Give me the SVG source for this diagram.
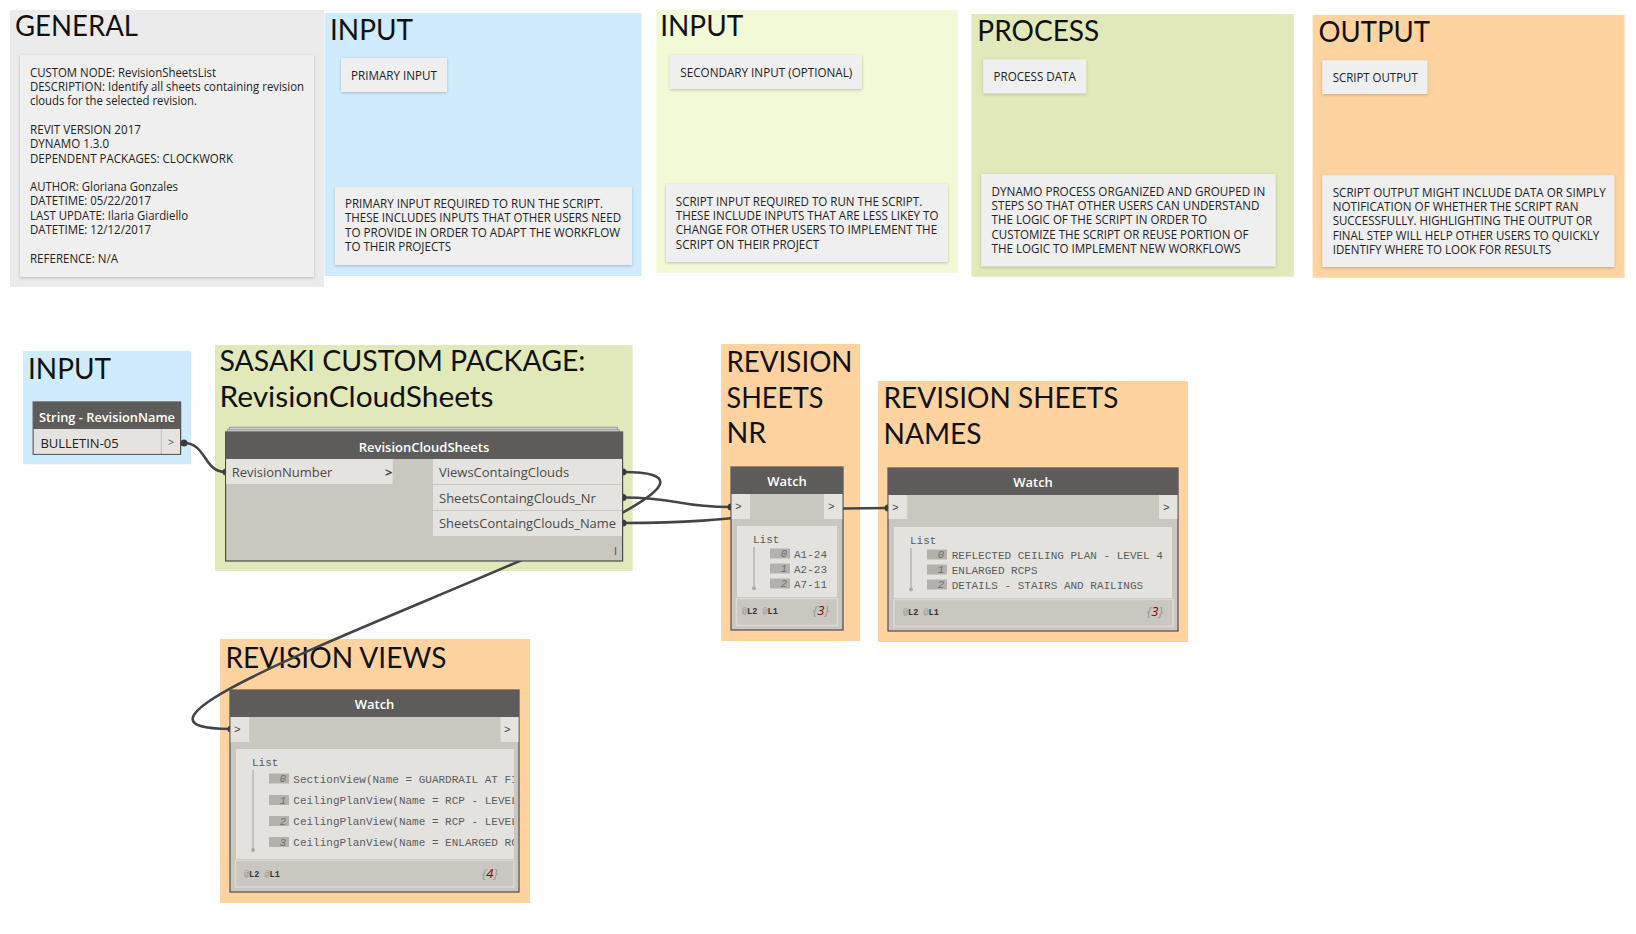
<svg xmlns="http://www.w3.org/2000/svg" width="1636" height="934" viewBox="0 0 1636 934">
<style>
.gt{font-family:Lato,"Open Sans","Liberation Sans",sans-serif;font-size:29px;fill:#111}
.nt{font-family:"Open Sans","Liberation Sans",sans-serif;font-size:12px;fill:#222}
.note{fill:#efefef}
.hd{font-family:"Open Sans","Liberation Sans",sans-serif;font-size:13px;font-weight:600;fill:#fff;text-anchor:middle}
.pt{font-family:"Open Sans","Liberation Sans",sans-serif;font-size:13px;fill:#4a4a4a}
.mono{font-family:"Liberation Mono","DejaVu Sans Mono",monospace;font-size:11px;fill:#5c5c5c}
.idx{font-family:"Liberation Mono","DejaVu Sans Mono",monospace;font-size:10.5px;fill:#6e6e6e;text-anchor:end;font-style:italic}
.ib{fill:#b4b1ac}
.body{fill:#cac6c0;stroke:#4e4e4e;stroke-width:1.2}
.head{fill:#5e5c5a}
.row{fill:#e5e3df}
.list{fill:#e4e2de}
.foot{fill:none;stroke:#dcd9d4;stroke-width:1.5}
.lv{font-family:"Liberation Mono","DejaVu Sans Mono",monospace;font-size:8.5px;font-weight:bold;fill:#333}
.at{fill:#999;font-weight:normal}
.cnt{font-family:"Open Sans","Liberation Sans",sans-serif;font-size:13px;font-style:italic;fill:#999;text-anchor:end}
.wire{fill:none;stroke:#444;stroke-width:2.6}
.dot{fill:#3a3a3a}
.tl{stroke:#aaa;stroke-width:1.2}
</style>
<defs>
<filter id="sh" x="-5%" y="-5%" width="110%" height="115%">
<feDropShadow dx="0" dy="1" stdDeviation="1.5" flood-color="#000" flood-opacity="0.22"/>
</filter>
<clipPath id="clipV"><rect x="236" y="749" width="278" height="110"/></clipPath>
</defs>

<!-- top groups -->
<g id="grp-general">
<rect x="10" y="10" width="314" height="277" fill="#ebebeb"/>
<text class="gt" x="15" y="36" textLength="123" lengthAdjust="spacingAndGlyphs">GENERAL</text>
<rect class="note" x="20" y="55" width="294" height="222" filter="url(#sh)"/>
<text class="nt" x="30" y="76.7" textLength="186" lengthAdjust="spacingAndGlyphs">CUSTOM NODE: RevisionSheetsList</text>
<text class="nt" x="30" y="91" textLength="274" lengthAdjust="spacingAndGlyphs">DESCRIPTION: Identify all sheets containing revision</text>
<text class="nt" x="30" y="105.3" textLength="167" lengthAdjust="spacingAndGlyphs">clouds for the selected revision.</text>
<text class="nt" x="30" y="133.9" textLength="111" lengthAdjust="spacingAndGlyphs">REVIT VERSION 2017</text>
<text class="nt" x="30" y="148.2" textLength="79" lengthAdjust="spacingAndGlyphs">DYNAMO 1.3.0</text>
<text class="nt" x="30" y="162.5" textLength="203" lengthAdjust="spacingAndGlyphs">DEPENDENT PACKAGES: CLOCKWORK</text>
<text class="nt" x="30" y="191.1" textLength="148" lengthAdjust="spacingAndGlyphs">AUTHOR: Gloriana Gonzales</text>
<text class="nt" x="30" y="205.4" textLength="121" lengthAdjust="spacingAndGlyphs">DATETIME: 05/22/2017</text>
<text class="nt" x="30" y="219.7" textLength="158" lengthAdjust="spacingAndGlyphs">LAST UPDATE: Ilaria Giardiello</text>
<text class="nt" x="30" y="234" textLength="121" lengthAdjust="spacingAndGlyphs">DATETIME: 12/12/2017</text>
<text class="nt" x="30" y="262.6" textLength="88" lengthAdjust="spacingAndGlyphs">REFERENCE: N/A</text>
</g>

<g id="grp-input-primary">
<rect x="324.5" y="13" width="317" height="263" fill="#d0ecfc"/>
<text class="gt" x="330" y="40" textLength="83" lengthAdjust="spacingAndGlyphs">INPUT</text>
<rect class="note" x="341" y="58" width="106" height="34" filter="url(#sh)"/>
<text class="nt" x="351" y="80" textLength="86" lengthAdjust="spacingAndGlyphs">PRIMARY INPUT</text>
<rect class="note" x="335" y="187" width="297" height="78" filter="url(#sh)"/>
<text class="nt" x="345" y="208" textLength="258" lengthAdjust="spacingAndGlyphs">PRIMARY INPUT REQUIRED TO RUN THE SCRIPT.</text>
<text class="nt" x="345" y="222.3" textLength="276" lengthAdjust="spacingAndGlyphs">THESE INCLUDES INPUTS THAT OTHER USERS NEED</text>
<text class="nt" x="345" y="236.6" textLength="275" lengthAdjust="spacingAndGlyphs">TO PROVIDE IN ORDER TO ADAPT THE WORKFLOW</text>
<text class="nt" x="345" y="251" textLength="106" lengthAdjust="spacingAndGlyphs">TO THEIR PROJECTS</text>
</g>

<g id="grp-input-secondary">
<rect x="656.3" y="10" width="301.6" height="262.7" fill="#f2f9d6"/>
<text class="gt" x="660.2" y="36" textLength="83" lengthAdjust="spacingAndGlyphs">INPUT</text>
<rect class="note" x="669.9" y="55" width="192" height="34" filter="url(#sh)"/>
<text class="nt" x="680.3" y="77" textLength="172" lengthAdjust="spacingAndGlyphs">SECONDARY INPUT (OPTIONAL)</text>
<rect class="note" x="666" y="184" width="282" height="78" filter="url(#sh)"/>
<text class="nt" x="675.8" y="205.7" textLength="246.4" lengthAdjust="spacingAndGlyphs">SCRIPT INPUT REQUIRED TO RUN THE SCRIPT.</text>
<text class="nt" x="675.8" y="219.9" textLength="262.6" lengthAdjust="spacingAndGlyphs">THESE INCLUDE INPUTS THAT ARE LESS LIKEY TO</text>
<text class="nt" x="675.8" y="234.1" textLength="261.3" lengthAdjust="spacingAndGlyphs">CHANGE FOR OTHER USERS TO IMPLEMENT THE</text>
<text class="nt" x="675.8" y="248.5" textLength="143.3" lengthAdjust="spacingAndGlyphs">SCRIPT ON THEIR PROJECT</text>
</g>

<g id="grp-process">
<rect x="971.5" y="14" width="322.3" height="262.7" fill="#e1e9ba"/>
<text class="gt" x="977.3" y="40.7" textLength="122" lengthAdjust="spacingAndGlyphs">PROCESS</text>
<rect class="note" x="983.2" y="59.3" width="103" height="34" filter="url(#sh)"/>
<text class="nt" x="993.5" y="81" textLength="82.4" lengthAdjust="spacingAndGlyphs">PROCESS DATA</text>
<rect class="note" x="981.2" y="174" width="294.4" height="92.3" filter="url(#sh)"/>
<text class="nt" x="991.6" y="195.7" textLength="273.7" lengthAdjust="spacingAndGlyphs">DYNAMO PROCESS ORGANIZED AND GROUPED IN</text>
<text class="nt" x="991.6" y="209.9" textLength="267.8" lengthAdjust="spacingAndGlyphs">STEPS SO THAT OTHER USERS CAN UNDERSTAND</text>
<text class="nt" x="991.6" y="224.1" textLength="215.3" lengthAdjust="spacingAndGlyphs">THE LOGIC OF THE SCRIPT IN ORDER TO</text>
<text class="nt" x="991.6" y="238.5" textLength="256.8" lengthAdjust="spacingAndGlyphs">CUSTOMIZE THE SCRIPT OR REUSE PORTION OF</text>
<text class="nt" x="991.6" y="252.7" textLength="249" lengthAdjust="spacingAndGlyphs">THE LOGIC TO IMPLEMENT NEW WORKFLOWS</text>
</g>

<g id="grp-output">
<rect x="1312.6" y="15" width="311.9" height="262.7" fill="#ffd3a0"/>
<text class="gt" x="1318.4" y="41.7" textLength="111.5" lengthAdjust="spacingAndGlyphs">OUTPUT</text>
<rect class="note" x="1322.3" y="60.3" width="105" height="33.7" filter="url(#sh)"/>
<text class="nt" x="1332.7" y="81.7" textLength="85" lengthAdjust="spacingAndGlyphs">SCRIPT OUTPUT</text>
<rect class="note" x="1322.3" y="175.3" width="292" height="91.7" filter="url(#sh)"/>
<text class="nt" x="1332.7" y="196.7" textLength="273" lengthAdjust="spacingAndGlyphs">SCRIPT OUTPUT MIGHT INCLUDE DATA OR SIMPLY</text>
<text class="nt" x="1332.7" y="210.9" textLength="245.8" lengthAdjust="spacingAndGlyphs">NOTIFICATION OF WHETHER THE SCRIPT RAN</text>
<text class="nt" x="1332.7" y="225.1" textLength="259.4" lengthAdjust="spacingAndGlyphs">SUCCESSFULLY. HIGHLIGHTING THE OUTPUT OR</text>
<text class="nt" x="1332.7" y="239.5" textLength="266.5" lengthAdjust="spacingAndGlyphs">FINAL STEP WILL HELP OTHER USERS TO QUICKLY</text>
<text class="nt" x="1332.7" y="253.7" textLength="218.5" lengthAdjust="spacingAndGlyphs">IDENTIFY WHERE TO LOOK FOR RESULTS</text>
</g>

<!-- lower groups (backgrounds + titles) -->
<g id="grp-input">
<rect x="23" y="351" width="168" height="113.3" fill="#d0ecfc"/>
<text class="gt" x="28" y="379" textLength="83" lengthAdjust="spacingAndGlyphs">INPUT</text>
</g>
<g id="grp-sasaki">
<rect x="215" y="345" width="417.6" height="226" fill="#e1e9ba"/>
<text class="gt" x="219.5" y="371" textLength="366" lengthAdjust="spacingAndGlyphs">SASAKI CUSTOM PACKAGE:</text>
<text class="gt" x="219.5" y="407" textLength="274" lengthAdjust="spacingAndGlyphs">RevisionCloudSheets</text>
</g>
<g id="grp-rev-views">
<rect x="220" y="639" width="310" height="264" fill="#ffd3a0"/>
<text class="gt" x="225.5" y="668" textLength="221" lengthAdjust="spacingAndGlyphs">REVISION VIEWS</text>
</g>
<g id="grp-rev-nr">
<rect x="721" y="344" width="139" height="297" fill="#ffd3a0"/>
<text class="gt" x="726.5" y="372" textLength="126" lengthAdjust="spacingAndGlyphs">REVISION</text>
<text class="gt" x="726.5" y="407.5" textLength="97" lengthAdjust="spacingAndGlyphs">SHEETS</text>
<text class="gt" x="726.5" y="443" textLength="39.7" lengthAdjust="spacingAndGlyphs">NR</text>
</g>
<g id="grp-rev-names">
<rect x="878" y="381" width="310" height="261" fill="#ffd3a0"/>
<text class="gt" x="883.5" y="408" textLength="235" lengthAdjust="spacingAndGlyphs">REVISION SHEETS</text>
<text class="gt" x="883.5" y="444" textLength="98" lengthAdjust="spacingAndGlyphs">NAMES</text>
</g>

<!-- connectors -->
<g id="connectors">
<path class="wire" d="M184,443 C206,443 204,472 225,472"/>
<path class="wire" d="M623,472 C843,472 10,729 230,729"/>
<path class="wire" d="M623,497.5 C680,497.5 675,507 731,507"/>
<path class="wire" d="M623,523 C760,523 750,508 888,508"/>
<circle class="dot" cx="184" cy="443" r="3.5"/>
<circle class="dot" cx="226" cy="472" r="3.5"/>
<circle class="dot" cx="623" cy="472" r="3.5"/>
<circle class="dot" cx="623" cy="497.5" r="3.5"/>
<circle class="dot" cx="623" cy="523" r="3.5"/>
<circle class="dot" cx="231" cy="729" r="3.5"/>
<circle class="dot" cx="731" cy="507" r="3.5"/>
<circle class="dot" cx="888" cy="508" r="3.5"/>
</g>

<!-- nodes -->
<g id="node-string">
<rect class="body" x="33.2" y="402" width="147.4" height="52.3"/>
<rect class="head" x="33.2" y="402" width="147.4" height="27"/>
<text class="hd" x="107" y="421.5" textLength="136" lengthAdjust="spacingAndGlyphs">String - RevisionName</text>
<rect class="row" x="33.8" y="429" width="127" height="24.8"/>
<rect class="row" x="162" y="429" width="18" height="24.8"/>
<text class="pt" x="40.4" y="447.5" style="fill:#222">BULLETIN-05</text>
<text class="pt" x="168" y="446" style="font-size:11px;fill:#555">&gt;</text>
</g>

<g id="node-revisioncloudsheets">
<rect x="229.3" y="427.3" width="388" height="10" fill="#d5d2cd" stroke="#9a9a9a" stroke-width="1"/>
<rect x="227.3" y="429.7" width="392" height="10" fill="#d5d2cd" stroke="#9a9a9a" stroke-width="1"/>
<rect class="body" x="225.6" y="432" width="397" height="129"/>
<rect class="head" x="225.6" y="432" width="397" height="27"/>
<text class="hd" x="424" y="451.5">RevisionCloudSheets</text>
<rect class="row" x="226.2" y="459" width="166.5" height="25"/>
<text class="pt" x="231.7" y="477">RevisionNumber</text>
<text class="pt" x="385" y="477" style="font-weight:bold;fill:#444">&gt;</text>
<rect class="row" x="433" y="459" width="189" height="25"/>
<rect class="row" x="433" y="485" width="189" height="25"/>
<rect class="row" x="433" y="511" width="189" height="25"/>
<text class="pt" x="439" y="477">ViewsContaingClouds</text>
<text class="pt" x="439" y="502.5">SheetsContaingClouds_Nr</text>
<text class="pt" x="439" y="528" textLength="177" lengthAdjust="spacingAndGlyphs">SheetsContaingClouds_Name</text>
<text class="pt" x="614" y="555" style="font-size:11px">I</text>
</g>

<g id="node-watch-views">
<rect class="body" x="230" y="690" width="289" height="202"/>
<rect class="head" x="230" y="690" width="289" height="27"/>
<text class="hd" x="374.5" y="709">Watch</text>
<rect class="row" x="230.7" y="717" width="18.5" height="25"/>
<rect class="row" x="500.5" y="717" width="18" height="25"/>
<text class="mono" x="234" y="733" style="fill:#444">&gt;</text>
<text class="mono" x="504" y="733" style="fill:#444">&gt;</text>
<rect class="list" x="236" y="749" width="278" height="110"/>
<text class="mono" x="252" y="766">List</text>
<line class="tl" x1="253" y1="770" x2="253" y2="849"/>
<circle cx="253" cy="850" r="2" fill="#aaa"/>
<rect class="ib" x="269" y="773.5" width="20" height="10"/>
<rect class="ib" x="269" y="795" width="20" height="10"/>
<rect class="ib" x="269" y="816" width="20" height="10"/>
<rect class="ib" x="269" y="837" width="20" height="10"/>
<text class="idx" x="286" y="782">0</text>
<text class="idx" x="286" y="803.5">1</text>
<text class="idx" x="286" y="824.5">2</text>
<text class="idx" x="286" y="845.5">3</text>
<g clip-path="url(#clipV)">
<text class="mono" x="293.3" y="782.5">SectionView(Name = GUARDRAIL AT FI</text>
<text class="mono" x="293.3" y="803.7">CeilingPlanView(Name = RCP - LEVEL</text>
<text class="mono" x="293.3" y="824.7">CeilingPlanView(Name = RCP - LEVEL</text>
<text class="mono" x="293.3" y="845.7">CeilingPlanView(Name = ENLARGED RC</text>
</g>
<rect class="foot" x="235.5" y="860.5" width="278.5" height="26.5"/>
<text class="lv" x="244" y="876.5"><tspan class="at">@</tspan>L2 <tspan class="at">@</tspan>L1</text>
<text class="cnt" x="498" y="878">{<tspan style="fill:#8b0000">4</tspan>}</text>
</g>

<g id="node-watch-nr">
<rect class="body" x="731" y="467" width="112" height="163"/>
<rect class="head" x="731" y="467" width="112" height="27"/>
<text class="hd" x="787" y="486">Watch</text>
<rect class="row" x="731.7" y="494" width="18.5" height="25"/>
<rect class="row" x="824" y="494" width="18.3" height="25"/>
<text class="mono" x="735" y="510" style="fill:#444">&gt;</text>
<text class="mono" x="828" y="510" style="fill:#444">&gt;</text>
<rect class="list" x="737" y="526" width="100" height="71"/>
<text class="mono" x="753" y="542.5">List</text>
<line class="tl" x1="754" y1="547" x2="754" y2="587"/>
<circle cx="754" cy="588.3" r="2" fill="#aaa"/>
<rect class="ib" x="770" y="548.5" width="20" height="10"/>
<rect class="ib" x="770" y="563.5" width="20" height="10"/>
<rect class="ib" x="770" y="578.5" width="20" height="10"/>
<text class="idx" x="787" y="557">0</text>
<text class="idx" x="787" y="572">1</text>
<text class="idx" x="787" y="587">2</text>
<text class="mono" x="794" y="557.5">A1-24</text>
<text class="mono" x="794" y="572.5">A2-23</text>
<text class="mono" x="794" y="587.5">A7-11</text>
<rect class="foot" x="736.5" y="598.5" width="101" height="27"/>
<text class="lv" x="742" y="613.5"><tspan class="at">@</tspan>L2 <tspan class="at">@</tspan>L1</text>
<text class="cnt" x="829" y="615">{<tspan style="fill:#8b0000">3</tspan>}</text>
</g>

<g id="node-watch-names">
<rect class="body" x="888" y="468" width="290" height="163"/>
<rect class="head" x="888" y="468" width="290" height="27"/>
<text class="hd" x="1033" y="487">Watch</text>
<rect class="row" x="888.7" y="495" width="18.5" height="24"/>
<rect class="row" x="1159" y="495" width="18.3" height="24"/>
<text class="mono" x="892" y="511" style="fill:#444">&gt;</text>
<text class="mono" x="1163" y="511" style="fill:#444">&gt;</text>
<rect class="list" x="894" y="527" width="278" height="71"/>
<text class="mono" x="910" y="544">List</text>
<line class="tl" x1="911" y1="548" x2="911" y2="588"/>
<circle cx="911" cy="589.5" r="2" fill="#aaa"/>
<rect class="ib" x="927" y="549.5" width="20" height="10"/>
<rect class="ib" x="927" y="564.5" width="20" height="10"/>
<rect class="ib" x="927" y="579.5" width="20" height="10"/>
<text class="idx" x="944" y="558">0</text>
<text class="idx" x="944" y="573">1</text>
<text class="idx" x="944" y="588">2</text>
<text class="mono" x="951.7" y="558.5">REFLECTED CEILING PLAN - LEVEL 4</text>
<text class="mono" x="951.7" y="573.5">ENLARGED RCPS</text>
<text class="mono" x="951.7" y="588.5">DETAILS - STAIRS AND RAILINGS</text>
<rect class="foot" x="894" y="599.5" width="279" height="27"/>
<text class="lv" x="903" y="614.5"><tspan class="at">@</tspan>L2 <tspan class="at">@</tspan>L1</text>
<text class="cnt" x="1163" y="616">{<tspan style="fill:#8b0000">3</tspan>}</text>
</g>
</svg>
